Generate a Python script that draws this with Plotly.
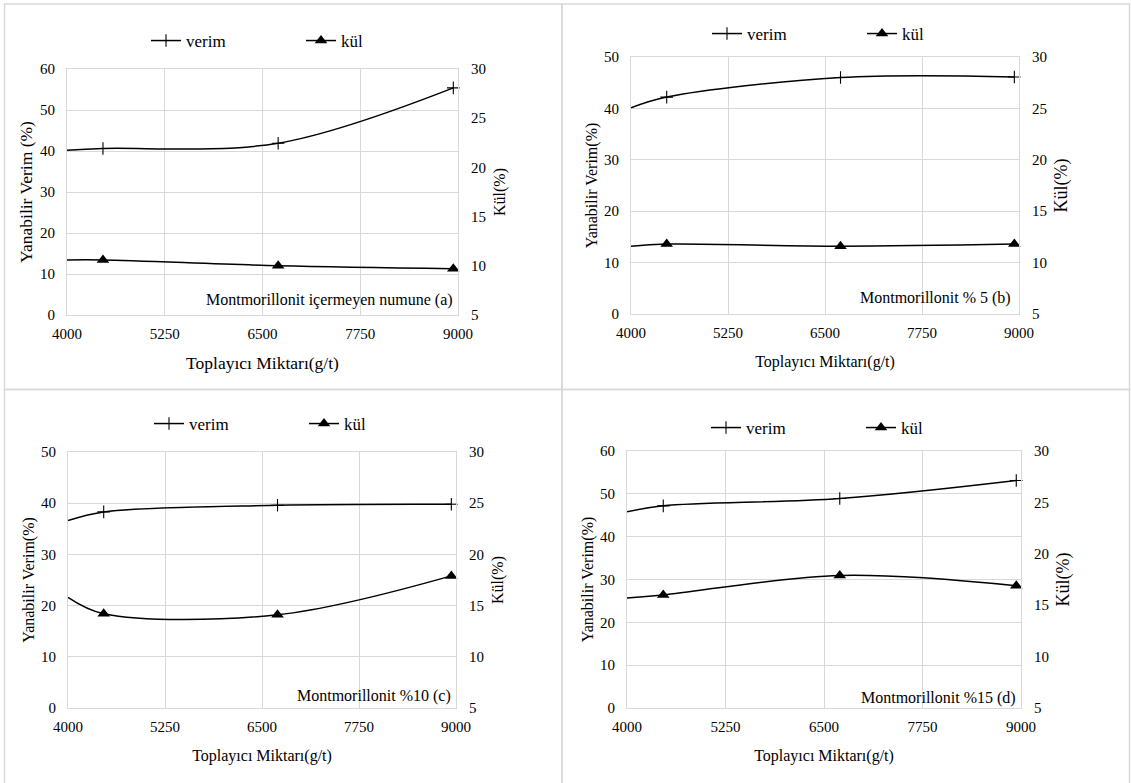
import plotly.graph_objects as go

W, H = 1131, 783

# ---- data ----
x_ticks = [4000, 5250, 6500, 7750, 9000]
x_pts = [4000, 4460, 6700, 8940]          # first value = curve start at the axis edge (no marker)

a_verim = [40.2, 40.6, 41.9, 55.4]
a_kul = [10.6, 10.6, 10.0, 9.7]
b_verim = [40.1, 42.2, 46.0, 46.1]
b_kul = [11.6, 11.8, 11.6, 11.8]
c_verim = [36.6, 38.3, 39.6, 39.8]
c_kul = [15.8, 14.2, 14.1, 17.9]
d_verim = [45.8, 47.2, 48.9, 53.1]
d_kul = [15.7, 16.0, 17.9, 16.9]

labels = ["Montmorillonit içermeyen numune (a)", "Montmorillonit % 5 (b)",
          "Montmorillonit %10 (c)", "Montmorillonit %15 (d)"]
left_titles = ["Yanabilir Verim (%)", "Yanabilir Verim(%)", "Yanabilir Verim(%)", "Yanabilir Verim(%)"]
x_title = "Toplayıcı Miktarı(g/t)"
right_title = "Kül(%)"
left_max = [60, 50, 50, 60]

FONT = "Liberation Serif"
GRID = "#d9d9d9"

panels = [
    dict(px=(67, 458), py=(69, 315), verim=a_verim, kul=a_kul, leg=(146, 41), tf=17.5, rf=16,
         ann=(-3, 15)),
    dict(px=(631, 1019), py=(57, 314), verim=b_verim, kul=b_kul, leg=(707, 34), tf=16, rf=18,
         ann=(-6, 16.5)),
    dict(px=(68, 456), py=(452, 708), verim=c_verim, kul=c_kul, leg=(149, 424), tf=16, rf=16,
         ann=(-3, 12.5)),
    dict(px=(627, 1021), py=(451, 708), verim=d_verim, kul=d_kul, leg=(706, 428), tf=16, rf=18,
         ann=(-3, 10.5)),
]

fig = go.Figure()
layout = {}
annotations = []

for i, p in enumerate(panels):
    n = i + 1
    xa = "x" if n == 1 else f"x{n}"
    yl = "y" if n == 1 else f"y{n}"
    yr_n = n + 4
    yr = f"y{yr_n}"
    leg = "legend" if n == 1 else f"legend{n}"

    # lines (spline, like Excel smoothed lines)
    fig.add_trace(go.Scatter(x=x_pts, y=p["verim"], mode="lines", xaxis=xa, yaxis=yl,
                             line=dict(color="black", width=1.5, shape="spline", smoothing=1.0),
                             showlegend=False, legendgroup=f"v{n}", hoverinfo="skip"))
    fig.add_trace(go.Scatter(x=x_pts, y=p["kul"], mode="lines", xaxis=xa, yaxis=yr,
                             line=dict(color="black", width=1.5, shape="spline", smoothing=1.0),
                             showlegend=False, legendgroup=f"k{n}", hoverinfo="skip"))
    # markers at measured points
    fig.add_trace(go.Scatter(x=x_pts[1:], y=p["verim"][1:], mode="markers", xaxis=xa, yaxis=yl,
                             marker=dict(symbol="cross-thin", size=9, color="black",
                                         line=dict(color="black", width=1.1)),
                             showlegend=False, legendgroup=f"v{n}", cliponaxis=False))
    fig.add_trace(go.Scatter(x=x_pts[1:], y=p["kul"][1:], mode="markers", xaxis=xa, yaxis=yr,
                             marker=dict(symbol="triangle-up", size=11, color="black"),
                             showlegend=False, legendgroup=f"k{n}", cliponaxis=False))
    # legend entries
    fig.add_trace(go.Scatter(x=[None], y=[None], mode="lines+markers", name="verim", xaxis=xa, yaxis=yl,
                             line=dict(color="black", width=1.5),
                             marker=dict(symbol="cross-thin", size=9, color="black",
                                         line=dict(color="black", width=1.1)),
                             legend=leg, legendgroup=f"v{n}"))
    fig.add_trace(go.Scatter(x=[None], y=[None], mode="lines+markers", name="kül", xaxis=xa, yaxis=yr,
                             line=dict(color="black", width=1.5),
                             marker=dict(symbol="triangle-up", size=11, color="black"),
                             legend=leg, legendgroup=f"k{n}"))

    dx = [p["px"][0] / W, p["px"][1] / W]
    dy = [1 - p["py"][1] / H, 1 - p["py"][0] / H]
    xkey = "xaxis" if n == 1 else f"xaxis{n}"
    ylkey = "yaxis" if n == 1 else f"yaxis{n}"
    yrkey = f"yaxis{yr_n}"

    layout[xkey] = dict(domain=dx, anchor=yl, range=[4000, 9000], tickvals=x_ticks,
                        ticktext=[str(v) for v in x_ticks],
                        showgrid=True, gridcolor=GRID, gridwidth=1, zeroline=False,
                        showline=True, linecolor=GRID, linewidth=1, mirror=True,
                        ticks="outside", ticklen=5, tickcolor="rgba(0,0,0,0)",
                        tickfont=dict(family=FONT, size=15, color="black"),
                        title=dict(text=x_title, font=dict(family=FONT, size=p["tf"], color="black"),
                                   standoff=15))
    layout[ylkey] = dict(domain=dy, anchor=xa, range=[0, left_max[i]], dtick=10,
                         showgrid=True, gridcolor=GRID, gridwidth=1, zeroline=False,
                         showline=True, linecolor=GRID, linewidth=1, mirror=True,
                         ticks="outside", ticklen=8, tickcolor="rgba(0,0,0,0)",
                         tickfont=dict(family=FONT, size=15, color="black"),
                         title=dict(text=left_titles[i], font=dict(family=FONT, size=p["tf"], color="black"),
                                    standoff=2))
    layout[yrkey] = dict(domain=dy, anchor=xa, overlaying=yl, side="right", range=[5, 30], dtick=5,
                         showgrid=False, zeroline=False, showline=False,
                         ticks="outside", ticklen=9, tickcolor="rgba(0,0,0,0)",
                         tickfont=dict(family=FONT, size=15, color="black"),
                         title=dict(text=right_title, font=dict(family=FONT, size=p["rf"], color="black"),
                                    standoff=8))
    layout[leg] = dict(orientation="h", x=p["leg"][0] / W, y=1 - p["leg"][1] / H,
                       xanchor="left", yanchor="middle", bgcolor="rgba(0,0,0,0)",
                       font=dict(family=FONT, size=17, color="black"),
                       entrywidth=110, entrywidthmode="pixels", itemwidth=30, tracegroupgap=0)

    annotations.append(dict(text=labels[i], xref=f"{xa} domain", yref=f"{yl} domain", x=1, y=0,
                            xanchor="right", yanchor="middle", xshift=p["ann"][0], yshift=p["ann"][1],
                            showarrow=False, font=dict(family=FONT, size=16, color="black")))

# panel frames
shapes = []
for (x0, y0, x1, y1) in [(4.5, 4, 562, 389.5), (562, 4, 1129.5, 389.5),
                         (4.5, 389.5, 562, 790), (562, 389.5, 1129.5, 790)]:
    shapes.append(dict(type="rect", xref="paper", yref="paper",
                       x0=x0 / W, x1=x1 / W, y0=1 - y1 / H, y1=1 - y0 / H,
                       line=dict(color=GRID, width=1.5), fillcolor="rgba(0,0,0,0)", layer="below"))

fig.update_layout(**layout)
fig.update_layout(width=W, height=H, margin=dict(l=0, r=0, t=0, b=0, autoexpand=False),
                  paper_bgcolor="white", plot_bgcolor="white",
                  annotations=annotations, shapes=shapes,
                  font=dict(family=FONT, color="black"))

fig.write_html("out.html", config={"displayModeBar": False},
               post_script="document.body.style.margin='0px';")
